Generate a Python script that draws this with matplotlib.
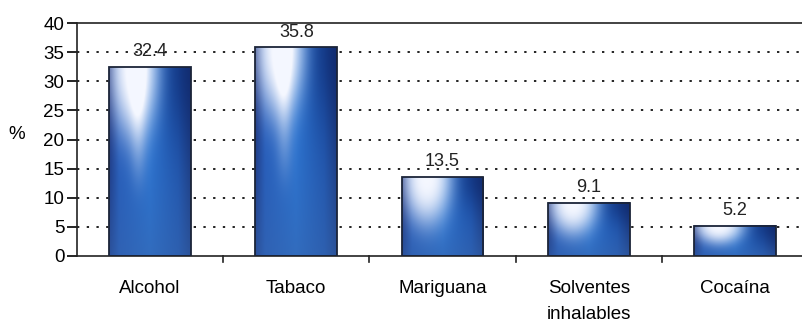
import numpy as np
import matplotlib
matplotlib.use("Agg")
import matplotlib.pyplot as plt
from matplotlib.patches import Rectangle

categories = ["Alcohol", "Tabaco", "Mariguana", "Solventes\ninhalables", "Cocaína"]
values = [32.4, 35.8, 13.5, 9.1, 5.2]
yticks = [0, 5, 10, 15, 20, 25, 30, 35, 40]

plt.rcParams["font.family"] = ["Liberation Sans", "DejaVu Sans"]

fig = plt.figure(figsize=(8.03, 3.25), dpi=100)
ax = fig.add_axes([77 / 803, 69 / 325, 731 / 803, 233 / 325])

ax.set_xlim(-0.5, len(categories) - 0.5)
ax.set_ylim(0, 40)
px_per_unit = 233 / 40.0

# dotted horizontal gridlines
for t in yticks[1:-1]:
    ax.axhline(t, color="#222222", lw=1.4, ls=(0, (1.2, 3.8)), zorder=1)

bar_w = 0.56


def bar_image(value, nx=80):
    hpx = max(int(value * px_per_unit), 4)
    u = np.linspace(0, 1, nx)[None, :]
    d = np.arange(hpx)[:, None] + 0.5  # distance from top in px
    frac = d / hpx
    # horizontal base shading
    stops = np.array([0.0, 0.12, 0.5, 0.85, 1.0])
    cols = np.array([
        [0.10, 0.20, 0.50],
        [0.14, 0.36, 0.74],
        [0.16, 0.46, 0.84],
        [0.12, 0.34, 0.70],
        [0.10, 0.22, 0.50],
    ])
    base = np.stack([np.interp(u[0], stops, cols[:, k]) for k in range(3)], axis=-1)
    img = np.repeat(base[None, :, :], hpx, axis=0)
    # muted toward the bottom
    mute = (0.6 * frac ** 1.5)[..., None]
    img = img * (1 - mute) + mute * np.array([0.22, 0.40, 0.68])
    # darker top-right corner
    dk = 0.6 * np.exp(-((u - 0.95) / 0.3) ** 2 - (d / max(0.4 * hpx, 20)) ** 2)
    img = img * (1 - dk[..., None]) + dk[..., None] * np.array([0.05, 0.14, 0.40])
    # white highlight near the top-left
    H = min(70.0, 0.6 * hpx)
    r2 = ((u - 0.30) / 0.30) ** 2 + (d / H) ** 2
    w = np.exp(-r2 ** 1.5)
    # faint vertical streak on tall bars
    if hpx > 120:
        streak = 0.3 * np.exp(-((u - 0.36) / 0.10) ** 2) * np.exp(-(frac / 0.6) ** 6)
        w = np.clip(w + streak, 0, 1)
    img = img * (1 - w[..., None]) + w[..., None] * np.array([0.96, 0.97, 1.0])
    return np.clip(img, 0, 1)


for i, v in enumerate(values):
    x0 = i - bar_w / 2
    ax.imshow(bar_image(v), extent=(x0, x0 + bar_w, 0, v), aspect="auto",
              interpolation="bilinear", zorder=2)
    ax.add_patch(Rectangle((x0, 0), bar_w, v, fill=False, ec="#1b2438",
                           lw=1.3, zorder=3))
    ax.annotate(f"{v:.1f}", (i, v), xytext=(0, 5), textcoords="offset points",
                ha="center", va="bottom", fontsize=13, color="#222222", zorder=4)

ax.set_xlim(-0.5, len(categories) - 0.5)
ax.set_ylim(0, 40)

ax.set_yticks(yticks)
ax.set_yticklabels([str(t) for t in yticks], fontsize=13.5)
ax.set_xticks(np.arange(len(categories)))
ax.set_xticklabels(categories, fontsize=13.5, linespacing=1.75)
ax.tick_params(axis="x", length=0, pad=17)
ax.tick_params(axis="y", direction="out", length=7, width=1.2, pad=2)

# category separator ticks on the x axis
for b in np.arange(0.5, len(categories) - 0.5, 1):
    ax.plot([b, b], [0, -0.025], transform=ax.get_xaxis_transform(),
            color="#222222", lw=1.2, clip_on=False)

ax.spines["right"].set_visible(False)
for s in ["left", "bottom", "top"]:
    ax.spines[s].set_color("#222222")
    ax.spines[s].set_linewidth(1.2)

ax.set_ylabel("%", fontsize=13.5, rotation=0, va="center")
ax.yaxis.set_label_coords(-0.082, 0.52)

fig.savefig("out.png", dpi=100)
